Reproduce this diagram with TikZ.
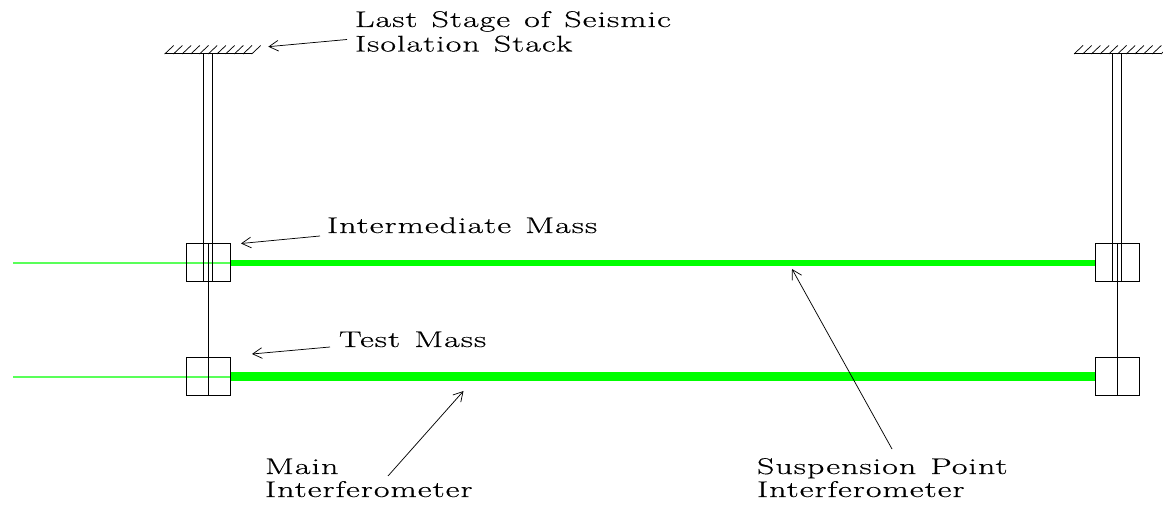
\documentclass[tikz,border=0pt]{standalone}
\usepackage{fontspec}
\setmainfont{Latin Modern Roman}[LetterSpace=4.5,FakeStretch=1.5,WordSpace=1.25,FakeBold=0.4]
\usetikzlibrary{arrows.meta}
\definecolor{thinbeam}{rgb}{0.35,1,0.35}
\tikzset{
  wire/.style={line width=0.75pt,draw=black},
  fine/.style={line width=0.55pt,draw=black},
  massbox/.style={line width=0.75pt,draw=black},
  beamthin/.style={line width=0.85pt,draw=thinbeam},
  beammid/.style={line width=3.8pt,draw=green,line cap=butt},
  beamfat/.style={line width=6.7pt,draw=green,line cap=butt},
  pointer/.style={line width=0.55pt,draw=black,-{Straight Barb[length=7pt,width=8pt,line width=0.55pt]}},
  lab/.style={font=\rmfamily\fontsize{17}{17}\selectfont,anchor=base west,inner sep=0pt,outer sep=0pt},
}
\begin{document}
\begin{tikzpicture}[x=0.75pt,y=-0.75pt]
\useasboundingbox (0,0) rectangle (1163,505);
% ceilings
\foreach \ox/\nm in {164.7/L,1074/R}{
  \coordinate (ceil\nm a) at (\ox,54);
  \coordinate (ceil\nm b) at (\ox+87,54);
  \draw[wire] (ceil\nm a) -- (ceil\nm b);
  \foreach \i in {0,...,10}{
    \draw[fine] (\ox+\i*8.7,54) -- ++(9,-8.5);
  }
}
% beams
\coordinate (inL) at (13,263);
\coordinate (inLb) at (13,377);
\draw[beamthin] (inL) -- (230,263);
\draw[beamthin] (inLb) -- (230,377);
\draw[beammid] (230,263) -- (1096,263);
\draw[beamfat] (230,376.5) -- (1096,376.5);
% masses
\foreach \ox/\nm in {186.3/L,1095.5/R}{
  \draw[massbox] (\ox,243.7) rectangle (\ox+43.8,282);
  \draw[massbox] (\ox,357.7) rectangle (\ox+43.8,395.5);
  \draw[wire] (\ox+17.2,54) -- (\ox+17.2,282);
  \draw[wire] (\ox+26.4,54) -- (\ox+26.4,282);
  \draw[wire] (\ox+21.8,243.7) -- (\ox+21.8,395.5);
}
% labels
\node[lab] (t1) at (355,27) {Last Stage of Seismic};
\node[lab] (t2) at (355,51.5) {Isolation Stack};
\node[lab] (t3) at (327,233) {Intermediate Mass};
\node[lab] (t4) at (339,347) {Test Mass};
\node[lab] (t5) at (265,474) {Main};
\node[lab] (t6) at (265,497) {Interferometer};
\node[lab] (t7) at (757,474) {Suspension Point};
\node[lab] (t8) at (757,497) {Interferometer};
% pointers
\coordinate (p1a) at (347,39.5); \coordinate (p1b) at (268.3,46.7);
\coordinate (p2a) at (320,236);  \coordinate (p2b) at (241,243.5);
\coordinate (p3a) at (330,347);  \coordinate (p3b) at (252,354);
\coordinate (p4a) at (388,476);  \coordinate (p4b) at (463.5,391);
\coordinate (p5a) at (892,449);  \coordinate (p5b) at (792,269);
\foreach \n in {1,...,5}{\draw[pointer] (p\n a) -- (p\n b);}
\end{tikzpicture}
\end{document}
